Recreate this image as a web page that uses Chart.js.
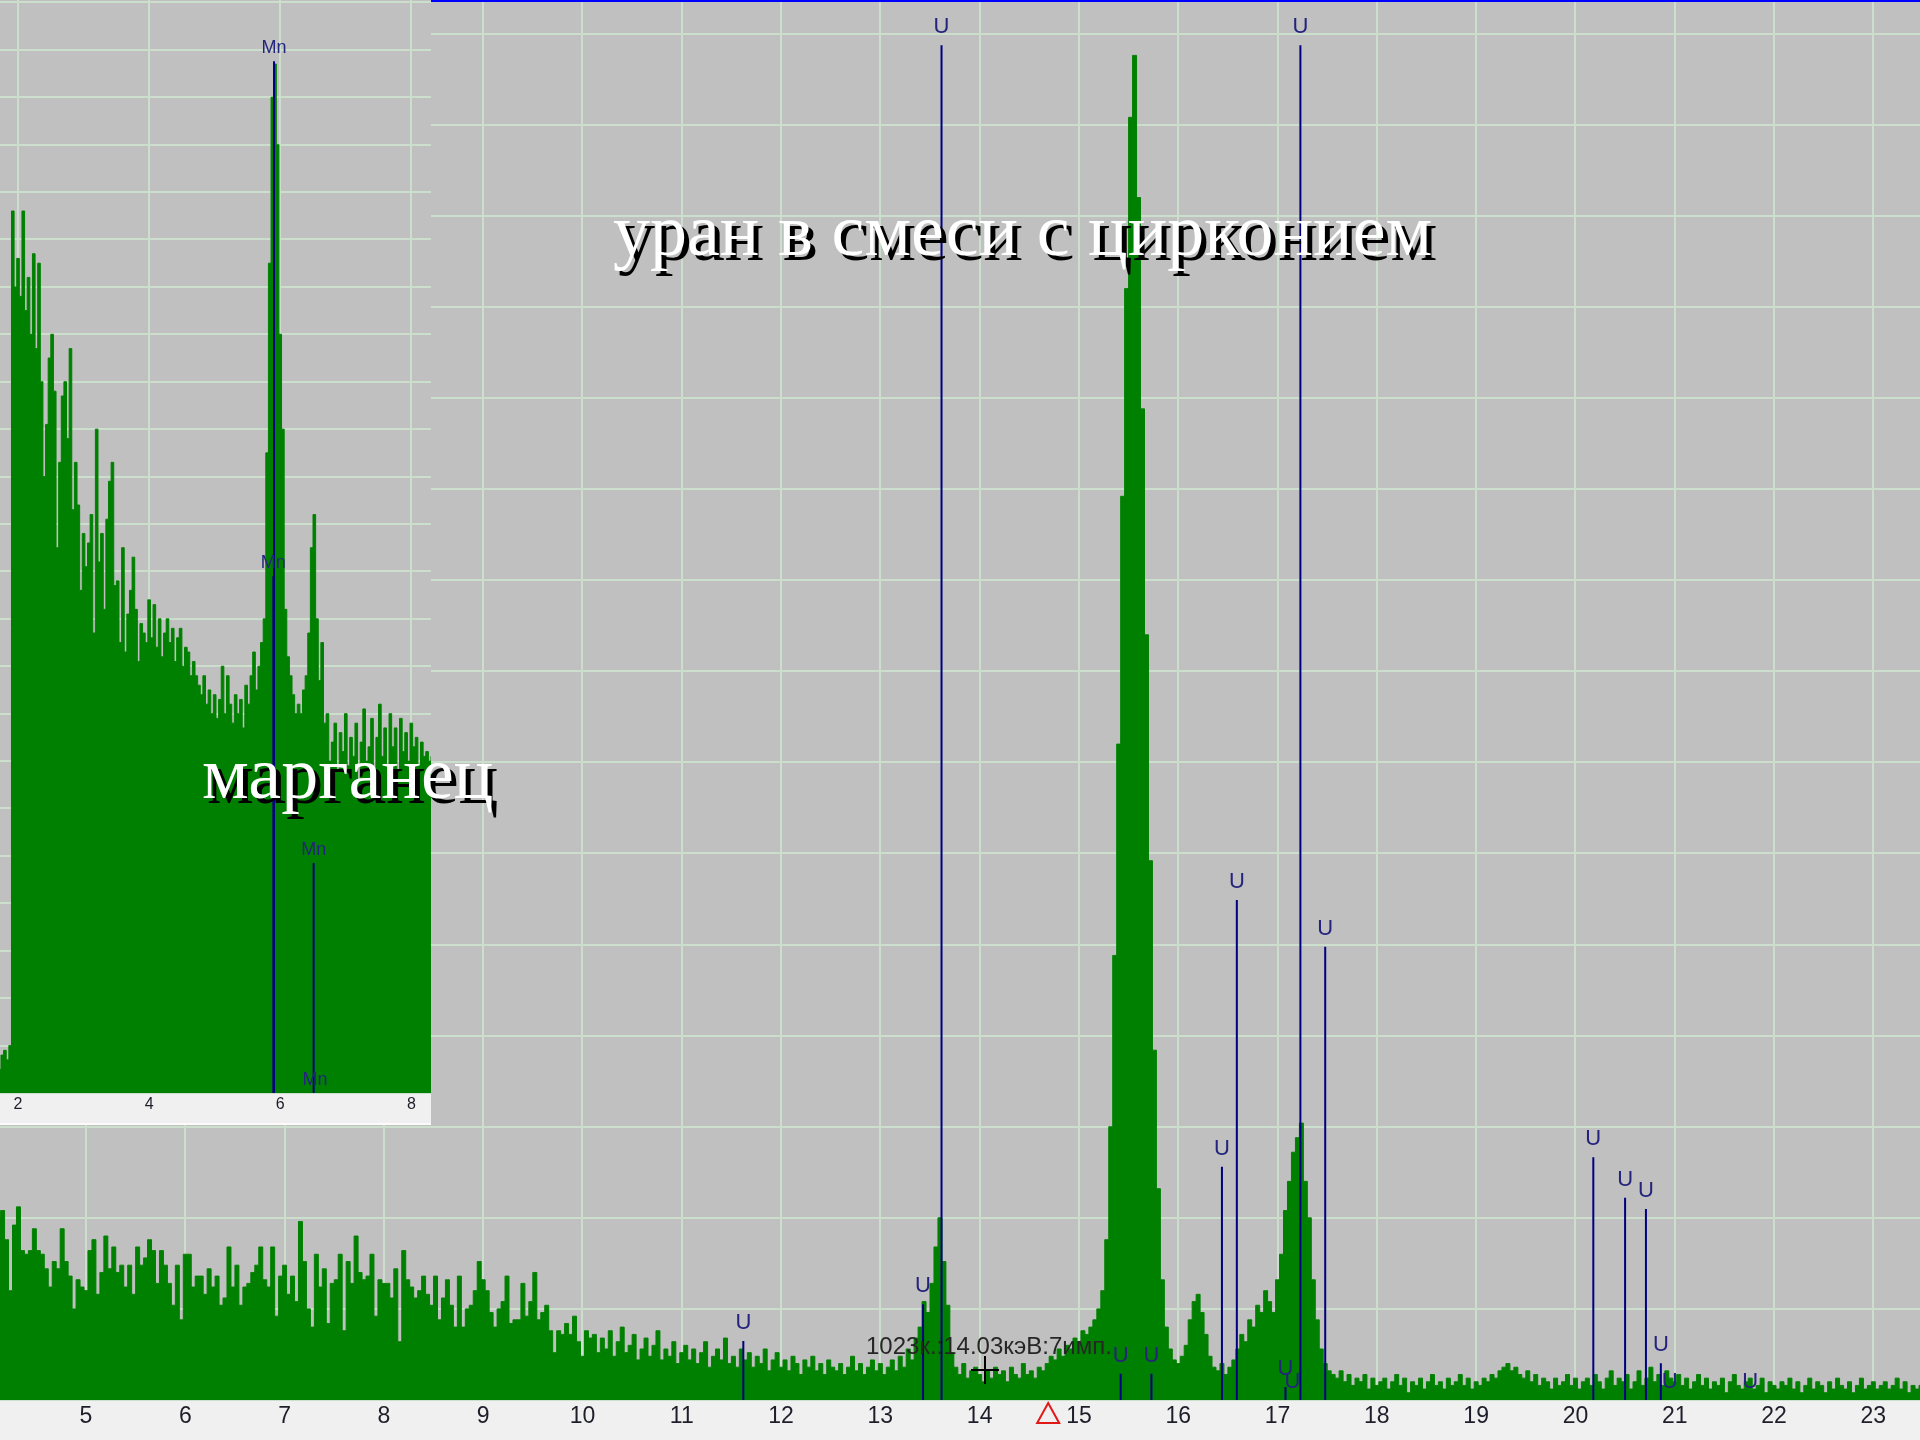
<!DOCTYPE html>
<html>
<head>
<meta charset="utf-8">
<script src="https://cdn.jsdelivr.net/npm/chart.js@4.4.1/dist/chart.umd.min.js"></script>
<style>
html, body { margin: 0; padding: 0; background: #c0c0c0; overflow: hidden; }
#wrap { position: relative; width: 1920px; height: 1440px; }
#main, #inset { position: absolute; left: 0; top: 0; }
.cap { position: absolute; white-space: nowrap; font-family: 'Liberation Serif', 'Times New Roman', serif;
       color: #fff; text-shadow: 5px 5px 0 #000; line-height: 1; }
</style>
</head>
<body>
<div id="wrap">
  <canvas id="main" width="1920" height="1440"></canvas>
  <canvas id="inset" width="431" height="1125"></canvas>
  <div class="cap" style="left:613px; top:193px; font-size:74px;">уран в смеси с цирконием</div>
  <div class="cap" style="left:202px; top:736px; font-size:74px;">марганец</div>
</div>
<script>
// ---- main spectrum (U + Zr), keV / counts ----
const mainStart = 4.12;
const mainStep = 0.04;
const mainCounts = [
  50,52,44,30,48,53,41,40,41,47,41,40,36,31,38,36,47,38,34,25,33,31,30,41,44,
  29,35,45,36,42,35,37,31,37,29,42,37,39,44,41,32,41,37,32,26,37,22,40,40,31,
  34,34,29,36,31,34,26,28,42,31,37,26,31,32,35,37,42,33,31,42,23,34,37,29,34,
  27,49,38,25,20,40,31,36,21,32,33,40,19,38,32,45,35,33,34,40,23,33,32,32,28,
  36,16,41,33,31,28,30,34,29,26,34,22,28,33,26,20,34,20,25,26,30,38,33,30,24,
  20,25,27,34,21,22,22,32,23,27,35,22,24,26,19,13,19,18,21,18,23,16,12,19,17,
  18,13,17,14,19,12,16,20,13,15,18,11,14,17,12,15,19,11,14,12,16,10,13,15,11,
  14,10,13,16,9,12,14,11,17,10,12,9,14,11,13,9,12,10,14,8,11,13,9,11,8,
  12,10,7,11,9,12,8,10,7,11,9,8,10,7,9,12,8,10,7,9,11,8,10,7,9,
  11,8,12,9,14,11,17,20,27,24,32,42,50,38,26,13,9,7,10,6,8,9,7,5,8,
  6,9,7,8,5,9,7,6,10,7,8,6,9,8,10,12,11,14,12,15,14,17,16,19,18,
  20,22,25,30,44,75,122,180,248,305,352,369,330,272,210,148,96,58,33,20,14,11,10,12,15,
  22,27,29,24,18,12,9,8,10,7,9,11,14,18,16,22,20,26,24,30,27,24,33,40,52,
  60,68,72,76,60,50,33,22,14,10,8,7,6,8,5,7,4,6,5,7,3,6,4,5,6,
  3,5,7,4,6,2,5,4,6,3,5,7,4,5,3,6,4,5,7,4,6,3,5,4,6,
  5,7,6,8,9,10,8,9,7,6,8,5,7,4,6,5,3,6,4,5,7,4,6,3,5,
  6,4,7,5,3,6,8,4,6,5,7,3,5,8,4,6,9,5,7,4,8,6,5,7,4,
  6,3,5,7,4,6,3,5,4,6,2,5,7,4,3,5,6,3,4,6,2,5,4,3,5,
  4,6,3,5,2,4,6,3,5,4,2,5,3,6,4,3,5,2,4,6,3,4,5,3,4,
  5,3,4,6,3,5,2,4,3,4
];
const mainXTicks = [5,6,7,8,9,10,11,12,13,14,15,16,17,18,19,20,21,22,23];
const mainYTicks = [0,25,50,75,100,125,150,175,200,225,250,275,300,325,350,375];

// uranium line markers
const uEnergy = [11.62,13.43,13.616,15.42,15.73,16.44,16.59,17.08,17.15,17.23,17.48,20.18,20.50,20.71,20.86,20.95,21.76];
const uHeight = [16.2,26.3,371.8,7.2,7.2,64,137.2,3.6,0,371.8,124.4,66.6,55.5,52.4,10.1,0,0];

// cursor readout
const cursorKeV = 14.05;
const cursorCount = 8.2;
const readoutText = '1023к.:14.03кэВ:7имп.';
const markerKeV = 14.69;

// ---- inset spectrum (Mn) ----
const insetStart = 1.72;
const insetStep = 0.04;
const insetCounts = [
  5,8,9,7,10,186,170,176,168,186,165,172,160,177,157,175,150,130,141,155,160,148,115,133,147,
  150,138,157,123,133,124,106,118,111,116,122,97,140,112,118,102,121,129,133,107,108,95,115,93,101,
  106,113,102,91,99,97,95,104,96,103,94,100,92,97,100,95,98,91,96,98,90,94,93,88,91,
  88,86,84,88,82,85,80,84,79,83,90,80,88,82,78,84,80,83,77,86,82,88,93,85,90,
  95,100,135,175,210,217,200,160,140,102,92,88,84,80,82,80,85,88,97,115,122,100,87,95,78,
  80,70,74,78,68,76,72,80,69,75,71,78,66,74,81,70,73,79,67,75,82,71,77,69,80,
  73,77,68,79,72,76,70,78,73,75,69,74,71,72,70,71
];
const insetXTicks = [2,4,6,8];
const insetYTicks = [0,10,20,30,40,50,60,70,80,90,100,110,120,130,140,150,160,170,180,190,200,210,220,230];

const mnEnergy = [5.895,5.905,6.51,6.53];
const mnHeight = [109,217.6,48.5,0];

const FONT = "'Liberation Sans', Arial, sans-serif";
const GRID = 'rgb(204,222,204)';
const GREEN = '#008000';
const NAVY = '#000080';

function spectrumPoints(start, step, counts) {
  return counts.map((c, i) => ({ x: +(start + i * step).toFixed(3), y: c }));
}

function markerPoints(energies, heights) {
  const pts = [];
  energies.forEach((e, i) => {
    pts.push({ x: e, y: 0 }, { x: e, y: heights[i] }, { x: e, y: null });
  });
  return pts;
}

function bgPlugin(bottomLine) {
  return {
    id: 'bg',
    beforeDraw(chart) {
      const { ctx, chartArea: a, width, height } = chart;
      ctx.save();
      ctx.fillStyle = '#f0f0f0';
      ctx.fillRect(0, 0, width, height);
      ctx.fillStyle = '#c0c0c0';
      ctx.fillRect(a.left, a.top, a.right - a.left, a.bottom - a.top);
      if (bottomLine) {
        ctx.fillStyle = '#fbfbfb';
        ctx.fillRect(0, height - 2, width, 2);
      }
      ctx.restore();
    }
  };
}

function labelPlugin(energies, heights, text, font, gap, minGap) {
  return {
    id: 'elementLabels',
    afterDatasetsDraw(chart) {
      const { ctx, chartArea } = chart;
      const xs = chart.scales.x, ys = chart.scales.y;
      ctx.save();
      ctx.font = font;
      ctx.fillStyle = '#24247e';
      ctx.textAlign = 'center';
      ctx.textBaseline = 'middle';
      energies.forEach((e, i) => {
        const x = xs.getPixelForValue(e);
        const y = Math.min(ys.getPixelForValue(heights[i]) - gap, chartArea.bottom - minGap);
        ctx.fillText(text, x, y);
      });
      ctx.restore();
    }
  };
}

const mainExtras = {
  id: 'mainExtras',
  afterDraw(chart) {
    const { ctx, chartArea } = chart;
    const xs = chart.scales.x, ys = chart.scales.y;
    ctx.save();
    ctx.fillStyle = '#0000ff';
    ctx.fillRect(0, 0, chart.width, 2);

    const cx = Math.round(xs.getPixelForValue(cursorKeV));
    const cy = Math.round(ys.getPixelForValue(cursorCount));
    ctx.strokeStyle = '#000';
    ctx.lineWidth = 2;
    ctx.beginPath();
    ctx.moveTo(cx - 14, cy); ctx.lineTo(cx + 14, cy);
    ctx.moveTo(cx, cy - 14); ctx.lineTo(cx, cy + 14);
    ctx.stroke();

    ctx.font = '24px ' + FONT;
    ctx.fillStyle = '#262626';
    ctx.textAlign = 'left';
    ctx.textBaseline = 'middle';
    ctx.fillText(readoutText, cx - 119, cy - 23);

    const tx = xs.getPixelForValue(markerKeV);
    const tb = chartArea.bottom;
    ctx.strokeStyle = '#e01818';
    ctx.beginPath();
    ctx.moveTo(tx, tb + 3);
    ctx.lineTo(tx + 11, tb + 23);
    ctx.lineTo(tx - 11, tb + 23);
    ctx.closePath();
    ctx.stroke();
    ctx.restore();
  }
};

function axisOptions(min, max, ticks, size, stripHeight, padding) {
  return {
    x: {
      type: 'linear', min: min, max: max,
      afterBuildTicks: s => { s.ticks = ticks.x.map(v => ({ value: v })); },
      afterFit: s => { s.height = stripHeight; },
      grid: { color: GRID, lineWidth: 2, drawTicks: false },
      border: { display: false },
      ticks: { font: { size: size, family: FONT }, color: '#1e1e2a', padding: padding,
               maxRotation: 0, autoSkip: false, callback: v => String(v) }
    },
    y: {
      type: 'linear', min: 0, max: ticks.ymax,
      afterBuildTicks: s => { s.ticks = ticks.y.map(v => ({ value: v })); },
      afterFit: s => { s.width = 0; },
      grid: { color: GRID, lineWidth: 2, drawTicks: false },
      border: { display: false },
      ticks: { display: false }
    }
  };
}

new Chart(document.getElementById('main'), {
  type: 'line',
  data: {
    datasets: [
      { data: markerPoints(uEnergy, uHeight), borderColor: NAVY, borderWidth: 2,
        pointRadius: 0, fill: false, spanGaps: false, order: 0 },
      { data: spectrumPoints(mainStart, mainStep, mainCounts), stepped: 'middle', fill: 'origin',
        backgroundColor: GREEN, borderColor: GREEN, borderWidth: 1, pointRadius: 0, order: 1 }
    ]
  },
  options: {
    responsive: false, animation: false,
    layout: { padding: 0 },
    plugins: { legend: { display: false }, tooltip: { enabled: false } },
    scales: axisOptions(4.134, 23.47, { x: mainXTicks, y: mainYTicks, ymax: 384.2 }, 23, 40, 3)
  },
  plugins: [bgPlugin(false), labelPlugin(uEnergy, uHeight, 'U', '22px ' + FONT, 18, 13), mainExtras]
});

new Chart(document.getElementById('inset'), {
  type: 'line',
  data: {
    datasets: [
      { data: markerPoints(mnEnergy, mnHeight), borderColor: NAVY, borderWidth: 2,
        pointRadius: 0, fill: false, spanGaps: false, order: 0 },
      { data: spectrumPoints(insetStart, insetStep, insetCounts), stepped: 'middle', fill: 'origin',
        backgroundColor: GREEN, borderColor: GREEN, borderWidth: 1, pointRadius: 0, order: 1 }
    ]
  },
  options: {
    responsive: false, animation: false,
    layout: { padding: 0 },
    plugins: { legend: { display: false }, tooltip: { enabled: false } },
    scales: axisOptions(1.725, 8.3, { x: insetXTicks, y: insetYTicks, ymax: 230.5 }, 16, 32, 2)
  },
  plugins: [bgPlugin(true), labelPlugin(mnEnergy, mnHeight, 'Mn', '18px ' + FONT, 13, 10)]
});
</script>
</body>
</html>
